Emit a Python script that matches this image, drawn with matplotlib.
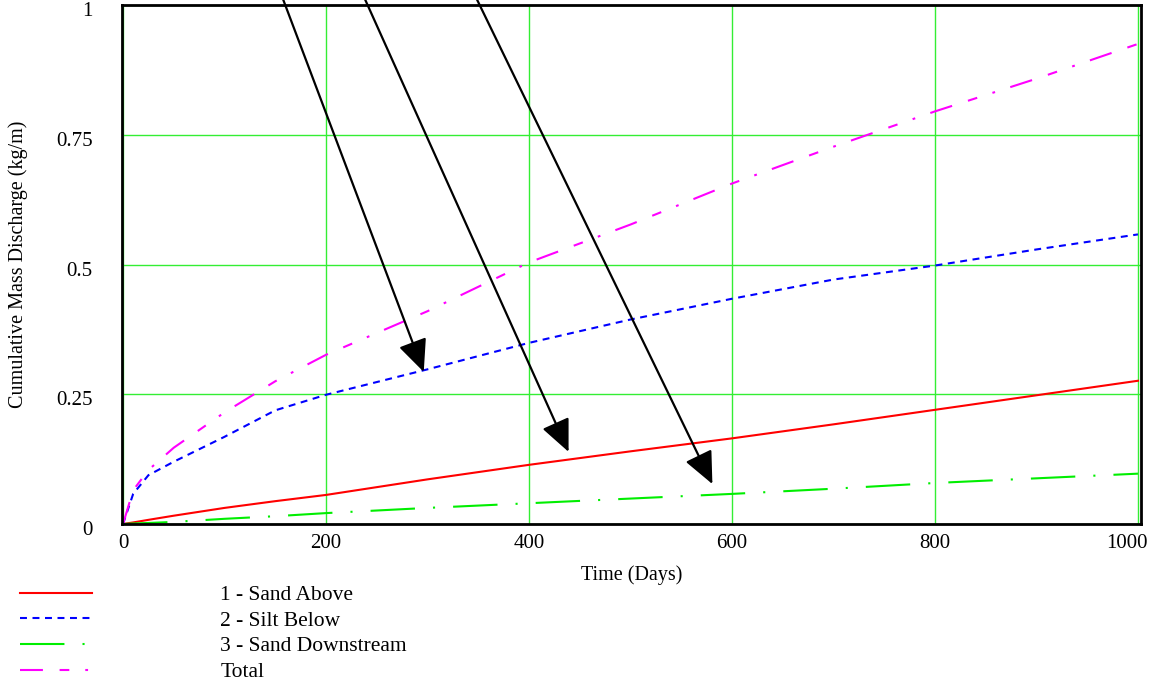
import matplotlib
matplotlib.use("Agg")
import matplotlib.pyplot as plt
from matplotlib.transforms import ScaledTranslation

plt.rcParams['font.family'] = ['Liberation Serif', 'DejaVu Serif']
plt.rcParams['lines.scale_dashes'] = False

# time in days
days = [0, 10, 25, 50, 100, 150, 200, 300, 400, 500, 600, 700, 800, 900, 1000]
sand_above = [0, 0.003, 0.008, 0.016, 0.031, 0.044, 0.056, 0.086, 0.114, 0.140,
              0.165, 0.192, 0.220, 0.248, 0.276]
silt_below = [0, 0.058, 0.094, 0.120, 0.168, 0.219, 0.249, 0.298, 0.349, 0.394,
              0.434, 0.471, 0.498, 0.529, 0.558]
sand_down = [0, 0.001, 0.002, 0.004, 0.010, 0.015, 0.021, 0.031, 0.040, 0.049,
             0.058, 0.068, 0.079, 0.088, 0.097]
total = [0, 0.065, 0.104, 0.147, 0.215, 0.275, 0.326, 0.410, 0.504, 0.577,
         0.656, 0.727, 0.795, 0.858, 0.925]

labels = ["1 - Sand Above", "2 - Silt Below", "3 - Sand Downstream", "Total"]
xticks = [0, 200, 400, 600, 800, 1000]
yticks = [0, 0.25, 0.5, 0.75, 1]
ytick_labels = ["0", "0.25", "0.5", "0.75", "1"]

# arrows: (start x, start y) -> (tip x, tip y), data coords
arrows = [((157.5, 1.012), (296.3, 0.293)),
          ((238.2, 1.012), (439.0, 0.139)),
          ((348.4, 1.012), (580.7, 0.077))]

fig = plt.figure(figsize=(11.51, 6.81), dpi=100)
ax = fig.add_axes([122/1151, 1 - 524/681, (1141-122)/1151, (524-5)/681])

ax.plot(days, sand_above, color='#ff0000', lw=1.5, label=labels[0])
ax.plot(days, silt_below, color='#0000ff', lw=1.5, dashes=(5, 4), label=labels[1])
ax.plot(days, sand_down, color='#00ee00', lw=1.5, dashes=(32, 13, 1.5, 13), label=labels[2])
ax.plot(days, total, color='#ff00ff', lw=1.5, dashes=(16.5, 12, 7, 11.5, 2, 11.5), label=labels[3])

for (x0, y0), (x1, y1) in arrows:
    ax.annotate("", xy=(x1, y1), xytext=(x0, y0), annotation_clip=False,
                arrowprops=dict(arrowstyle='-|>,head_length=1.0,head_width=0.45',
                                color='black', lw=1.6, mutation_scale=20,
                                shrinkA=0, shrinkB=0))

ax.set_xlim(-1, 1003)
ax.set_ylim(0, 1.0)
ax.set_xticks(xticks)
ax.set_xticklabels([str(t) for t in xticks])
ax.set_yticks(yticks)
ax.set_yticklabels(ytick_labels)
ax.tick_params(length=0, labelsize=15)
ax.tick_params(axis='y', pad=21)
ax.tick_params(axis='x', pad=7)
last = ax.get_xticklabels()[-1]
last.set_horizontalalignment('right')
last.set_transform(last.get_transform() + ScaledTranslation(10/100, 0, fig.dpi_scale_trans))
# y labels sit a little below their grid lines in the original
for lab in ax.get_yticklabels():
    lab.set_transform(lab.get_transform() + ScaledTranslation(0, -4/100, fig.dpi_scale_trans))
ax.grid(True, color='#33ee33', lw=1)
ax.set_axisbelow(True)
for s in ax.spines.values():
    s.set_linewidth(2)
    s.set_color('black')

ax.set_xlabel("Time (Days)", fontsize=14.5, labelpad=9)
ax.set_ylabel("Cumulative Mass Discharge (kg/m)", fontsize=14.5, labelpad=20)

handles, labs = ax.get_legend_handles_labels()
fig.legend(handles, labs, loc='upper left', bbox_to_anchor=(20/1151, 1 - 585/681),
           frameon=False, fontsize=15.5, handlelength=3.35, handletextpad=5.95,
           labelspacing=0.26, borderpad=0, borderaxespad=0)

fig.savefig("out.png", dpi=100)
